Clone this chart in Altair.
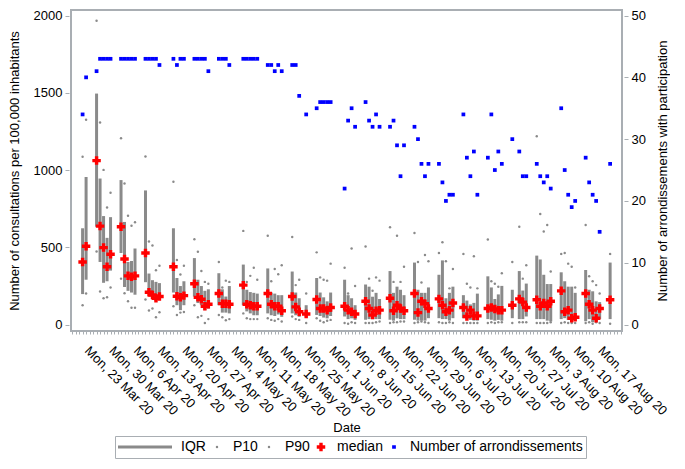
import altair as alt
import pandas as pd

# ---------------- data ----------------
dates = [
    "2020-03-19", "2020-03-20",
    "2020-03-23", "2020-03-24", "2020-03-25", "2020-03-26", "2020-03-27",
    "2020-03-30", "2020-03-31", "2020-04-01", "2020-04-02", "2020-04-03",
    "2020-04-06", "2020-04-07", "2020-04-08", "2020-04-09", "2020-04-10",
    "2020-04-14", "2020-04-15", "2020-04-16", "2020-04-17",
    "2020-04-20", "2020-04-21", "2020-04-22", "2020-04-23", "2020-04-24",
    "2020-04-27", "2020-04-28", "2020-04-29", "2020-04-30",
    "2020-05-04", "2020-05-05", "2020-05-06", "2020-05-07", "2020-05-08",
    "2020-05-11", "2020-05-12", "2020-05-13", "2020-05-14", "2020-05-15",
    "2020-05-18", "2020-05-19", "2020-05-20", "2020-05-22",
    "2020-05-25", "2020-05-26", "2020-05-27", "2020-05-28", "2020-05-29",
    "2020-06-02", "2020-06-03", "2020-06-04", "2020-06-05",
    "2020-06-08", "2020-06-09", "2020-06-10", "2020-06-11", "2020-06-12",
    "2020-06-15", "2020-06-16", "2020-06-17", "2020-06-18", "2020-06-19",
    "2020-06-22", "2020-06-23", "2020-06-24", "2020-06-25", "2020-06-26",
    "2020-06-29", "2020-06-30", "2020-07-01", "2020-07-02", "2020-07-03",
    "2020-07-06", "2020-07-07", "2020-07-08", "2020-07-09", "2020-07-10",
    "2020-07-13", "2020-07-14", "2020-07-15", "2020-07-16", "2020-07-17",
    "2020-07-20", "2020-07-22", "2020-07-23", "2020-07-24",
    "2020-07-27", "2020-07-28", "2020-07-29", "2020-07-30", "2020-07-31",
    "2020-08-03", "2020-08-04", "2020-08-05", "2020-08-06", "2020-08-07",
    "2020-08-10", "2020-08-11", "2020-08-12", "2020-08-13", "2020-08-14",
    "2020-08-17",
]

p10 = [
    125, 201,
    473, 214, 170, 176, 239,
    297, 203, 151, 108, 108,
    162, 91, 104, 47, 79,
    118, 62, 77, 81,
    125, 47, 56, 10, 35,
    62, 47, 27, 35,
    72, 41, 35, 35, 35,
    41, 30, 25, 35, 20,
    52, 35, 30, 10,
    41, 25, 15, 25, 30,
    10, 5, 15, 10,
    10, 10, 10, 15, 20,
    10, 15, 15, 20, 20,
    10, 15, 20, 15, 10,
    15, 10, 10, 15, 10,
    10, 10, 10, 10, 10,
    10, 15, 10, 15, 15,
    10, 15, 15, 15,
    10, 10, 10, 10, 15,
    10, 15, 10, 10, 10,
    10, 15, 5, 15, 10,
    5,
]

q1 = [
    197, 290,
    633, 405, 270, 280, 349,
    463, 243, 218, 207, 193,
    274, 197, 166, 151, 176,
    207, 125, 93, 125,
    181, 139, 125, 93, 103,
    125, 77, 77, 72,
    125, 85, 72, 60, 60,
    72, 60, 55, 65, 50,
    72, 60, 50, 45,
    62, 55, 45, 40, 55,
    52, 35, 40, 30,
    31, 35, 35, 35, 35,
    31, 25, 40, 35, 35,
    31, 25, 25, 25, 41,
    41, 35, 35, 25, 41,
    41, 35, 30, 25, 25,
    35, 31, 25, 30, 25,
    41, 35, 35, 52,
    35, 35, 35, 25, 20,
    35, 41, 30, 25, 25,
    21, 35, 15, 20, 35,
    35,
]

median = [
    405, 507,
    1061, 637, 498, 374, 455,
    633, 424, 315, 309, 315,
    463, 209, 191, 170, 181,
    374, 183, 176, 187,
    264, 176, 164, 118, 131,
    201, 135, 135, 131,
    255, 131, 125, 118, 118,
    201, 131, 118, 118, 89,
    181, 114, 83, 68,
    162, 104, 104, 93, 110,
    118, 93, 83, 68,
    151, 104, 62, 89, 93,
    170, 89, 125, 104, 89,
    201, 77, 151, 135, 104,
    166, 125, 83, 93, 139,
    110, 52, 93, 56, 56,
    104, 110, 100, 93, 93,
    125, 166, 145, 110,
    160, 118, 139, 118, 151,
    218, 83, 93, 41, 47,
    201, 131, 93, 41, 104,
    160,
]

q3 = [
    623, 955,
    1495, 945, 702, 561, 695,
    935, 664, 405, 411, 492,
    868, 330, 287, 276, 268,
    623, 301, 249, 280,
    430, 290, 249, 218, 228,
    332, 228, 181, 249,
    388, 225, 210, 205, 200,
    363, 207, 200, 190, 190,
    343, 207, 170, 125,
    301, 207, 176, 150, 207,
    290, 190, 170, 125,
    259, 245, 180, 205, 165,
    346, 205, 245, 225, 190,
    401, 225, 205, 205, 240,
    322, 415, 170, 205, 245,
    190, 155, 130, 140, 200,
    312, 240, 165, 195, 250,
    225, 346, 220, 265,
    446, 421, 322, 262, 262,
    338, 280, 245, 245, 205,
    353, 225, 215, 150, 145,
    401,
]

p90 = [
    1086, 1325,
    1966, 1308, 1001, 758, 853,
    1206, 913, 704, 639, 662,
    1088, 538, 511, 351, 380,
    924, 417, 324, 380,
    552, 471, 346, 276, 264,
    405, 239, 284, 276,
    606, 276, 315, 368, 290,
    575, 280, 359, 326, 384,
    567, 255, 290, 201,
    467, 305, 290, 284, 394,
    368, 201, 492, 249,
    505, 297, 218, 305, 284,
    629, 276, 575, 276, 374,
    592, 405, 272, 450, 409,
    463, 533, 409, 234, 359,
    457, 264, 239, 442, 234,
    550, 280, 264, 245, 332,
    405, 633, 297, 384,
    1219, 716, 602, 644, 343,
    457, 463, 394, 374, 239,
    644, 312, 280, 255, 201,
    457,
]

n_arrondissements = [
    34, 40,
    41, 43, 43, 43, 43,
    43, 43, 43, 43, 43,
    43, 43, 43, 43, 42,
    43, 42, 43, 43,
    43, 43, 43, 43, 41,
    43, 43, 43, 42,
    43, 43, 43, 43, 43,
    42, 42, 41, 42, 41,
    42, 42, 37, 34,
    35, 36, 36, 36, 36,
    22, 33, 35, 32,
    36, 33, 32, 34, 32,
    32, 33, 29, 24, 29,
    32, 30, 26, 24, 26,
    26, 23, 20, 21, 21,
    34, 27, 24, 28, 21,
    27, 34, 25, 28, 26,
    30, 28, 24, 24,
    26, 24, 23, 24, 22,
    35, 25, 21, 19, 20,
    27, 23, 21, 20, 15,
    26,
]

week_labels = [
    "Mon, 23 Mar 20", "Mon, 30 Mar 20", "Mon, 6 Apr 20", "Mon, 13 Apr 20",
    "Mon, 20 Apr 20", "Mon, 27 Apr 20", "Mon, 4 May 20", "Mon, 11 May 20",
    "Mon, 18 May 20", "Mon, 25 May 20", "Mon, 1 Jun 20", "Mon, 8 Jun 20",
    "Mon, 15 Jun 20", "Mon, 22 Jun 20", "Mon, 29 Jun 20", "Mon, 6 Jul 20",
    "Mon, 13 Jul 20", "Mon, 20 Jul 20", "Mon, 27 Jul 20", "Mon, 3 Aug 20",
    "Mon, 10 Aug 20", "Mon, 17 Aug 20",
]

series_names = ["IQR", "P10", "P90", "median", "Number of arrondissements"]

# ---------------- build table ----------------
start = pd.Timestamp("2020-03-23")
day = [(pd.Timestamp(d) - start).days for d in dates]
df = pd.DataFrame({
    "day": day, "p10": p10, "q1": q1, "med": median, "q3": q3,
    "p90": p90, "n": n_arrondissements,
})

GRAY = "#8a8a8a"
FRAME = "#a9aeb3"
FONT = "Liberation Sans"

series_colors = [GRAY, GRAY, GRAY, "#ff0000", "#0000ff"]
series_shapes = ["M-1,-0.055H1V0.055H-1Z", "circle", "circle", "cross", "square"]
series_sizes = [2916, 6, 6, 72, 14]

label_array = "[" + ",".join("'" + s + "'" for s in week_labels) + "]"
label_expr = ("datum.value >= 0 && datum.value % 7 == 0 ? "
              + label_array + "[datum.value / 7] : ''")

x_enc = alt.X(
    "day:Q",
    scale=alt.Scale(domain=[-7.32, 150.4], nice=False, zero=False),
    axis=alt.Axis(
        values=list(range(-7, 151)), labelExpr=label_expr, labelAngle=45,
        labelAlign="left", labelBaseline="top", labelOffset=-6,
        labelPadding=10, tickSize=3, tickColor=FRAME, domain=False, grid=False,
        labelOverlap=False, labelFlush=False, title="Date", titlePadding=2,
    ),
)

y_scale = alt.Scale(domain=[-42, 2036], nice=False, zero=False)
y_axis = alt.Axis(
    values=[0, 500, 1000, 1500, 2000], format="d", grid=False, domain=False,
    tickSize=4, offset=2, tickColor=FRAME, labelPadding=3, titlePadding=12,
    title="Number of consultations per 100,000 inhabitants",
)

legend = alt.Legend(
    orient="none", legendX=44, legendY=426, direction="horizontal",
    title=None, labelFontSize=14, labelFont=FONT, strokeColor=FRAME,
    padding=3, columnPadding=4, labelOffset=9, symbolStrokeWidth=0,
    clipHeight=16, labelLimit=400,
)

color_enc = alt.Color("series:N", scale=alt.Scale(domain=series_names, range=series_colors), legend=legend)
shape_enc = alt.Shape("series:N", scale=alt.Scale(domain=series_names, range=series_shapes), legend=legend)
size_enc = alt.Size("series:N", scale=alt.Scale(type="ordinal", domain=series_names, range=series_sizes), legend=legend)

base = alt.Chart(df)

iqr = base.mark_rule(color=GRAY, strokeWidth=3).encode(
    x=x_enc,
    y=alt.Y("q1:Q", scale=y_scale, axis=y_axis),
    y2="q3:Q",
)

p10_layer = base.transform_calculate(series="'P10'").mark_point(
    filled=True, opacity=1).encode(
    x=x_enc, y=alt.Y("p10:Q", scale=y_scale, axis=y_axis),
    color=color_enc, shape=shape_enc, size=size_enc,
)

p90_layer = base.transform_calculate(series="'P90'").mark_point(
    filled=True, opacity=1).encode(
    x=x_enc, y=alt.Y("p90:Q", scale=y_scale, axis=y_axis),
    color=color_enc, shape=shape_enc, size=size_enc,
)

med_layer = base.transform_calculate(series="'median'").mark_point(
    filled=True, opacity=1).encode(
    x=x_enc, y=alt.Y("med:Q", scale=y_scale, axis=y_axis),
    color=color_enc, shape=shape_enc, size=size_enc,
)

left = alt.layer(iqr, p10_layer, p90_layer, med_layer)

count_layer = base.transform_calculate(series="'Number of arrondissements'").mark_point(
    filled=True, opacity=1).encode(
    x=x_enc,
    y=alt.Y(
        "n:Q",
        scale=alt.Scale(domain=[-1.05, 50.9], nice=False, zero=False),
        axis=alt.Axis(
            orient="right", values=[0, 10, 20, 30, 40, 50], grid=False,
            domain=False, tickSize=4, offset=2, tickColor=FRAME,
            labelPadding=3, titlePadding=24, titleAngle=270,
            title="Number of arrondissements with participation",
        ),
    ),
    color=color_enc, shape=shape_enc, size=size_enc,
)

chart = alt.layer(left, count_layer).resolve_scale(y="independent").properties(
    width=551, height=321,
    padding={"left": 0, "top": 1, "right": 0, "bottom": 0},
).configure_view(
    stroke=FRAME, strokeWidth=2,
).configure_axis(
    labelFont=FONT, titleFont=FONT, labelFontSize=13, titleFontSize=13,
    titleFontWeight="normal", labelColor="#000000", titleColor="#000000",
).configure_legend(
    labelColor="#000000",
)

chart.save("out.html", embed_options={"renderer": "svg", "actions": False})
